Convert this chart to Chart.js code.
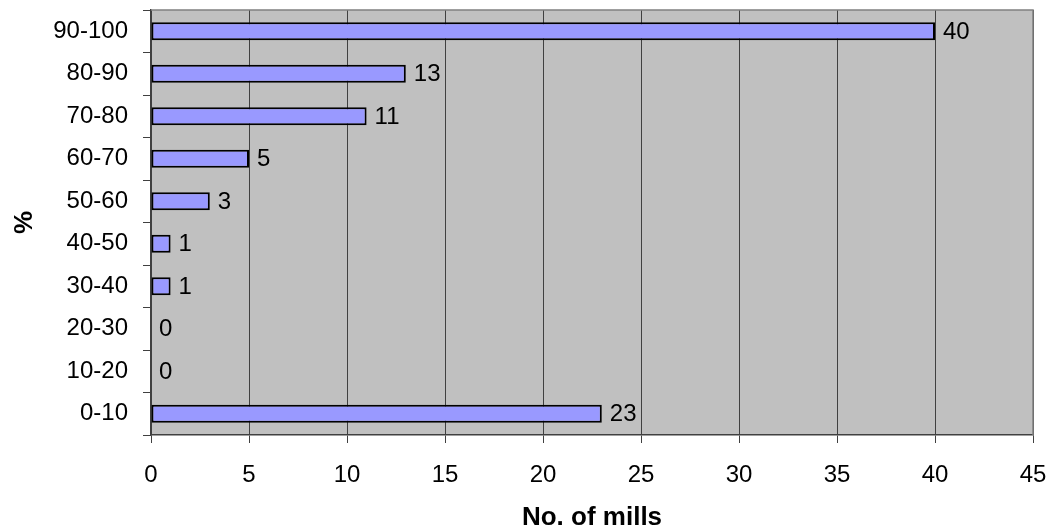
<!DOCTYPE html>
<html>
<head>
<meta charset="utf-8">
<script src="https://cdn.jsdelivr.net/npm/chart.js@4/dist/chart.umd.min.js"></script>
<style>
  html, body { margin: 0; padding: 0; background: #fff; }
  #wrap { width: 1049px; height: 528px; }
</style>
</head>
<body>
<div id="wrap"><canvas id="millChart" width="1049" height="528"></canvas></div>
<script>
// Data (bottom to top)
const bands = ['0-10', '10-20', '20-30', '30-40', '40-50', '50-60', '60-70', '70-80', '80-90', '90-100'];
const mills = [23, 0, 0, 1, 1, 3, 5, 11, 13, 40];
const xTicks = [0, 5, 10, 15, 20, 25, 30, 35, 40, 45];

const FONT = '"Liberation Sans", Arial, sans-serif';

// grey plot area + outline
const plotBox = {
    id: 'plotBox',
    beforeDraw(chart) {
        const a = chart.chartArea, c = chart.ctx;
        c.save();
        c.fillStyle = '#c0c0c0';
        c.fillRect(a.left, a.top, a.right - a.left, a.bottom - a.top);
        c.restore();
    },
    afterDraw(chart) {
        const a = chart.chartArea, c = chart.ctx;
        c.save();
        c.strokeStyle = '#808080';
        c.lineWidth = 1.5;
        c.beginPath();
        c.moveTo(a.left, a.top);
        c.lineTo(a.right, a.top);
        c.lineTo(a.right, a.bottom);
        c.stroke();
        c.restore();
    }
};

// value labels at end of bars
const barLabels = {
    id: 'barLabels',
    afterDatasetsDraw(chart) {
        const c = chart.ctx;
        const meta = chart.getDatasetMeta(0);
        c.save();
        c.font = '24px ' + FONT;
        c.fillStyle = '#000';
        c.textAlign = 'left';
        c.textBaseline = 'middle';
        meta.data.forEach((bar, i) => {
            c.fillText(String(mills[i]), bar.x + 8, bar.y + 1);
        });
        c.restore();
    }
};

new Chart(document.getElementById('millChart'), {
    type: 'bar',
    data: {
        labels: bands,
        datasets: [{
            data: mills,
            backgroundColor: '#9999ff',
            borderColor: '#000',
            borderWidth: 2,
            borderSkipped: false,
            barPercentage: 0.42,
            categoryPercentage: 1.0
        }]
    },
    options: {
        indexAxis: 'y',
        responsive: false,
        animation: false,
        layout: { padding: { top: 10, right: 16, bottom: 0, left: 0 } },
        plugins: { legend: { display: false }, tooltip: { enabled: false } },
        scales: {
            x: {
                min: 0,
                max: 45,
                afterBuildTicks: (s) => { s.ticks = xTicks.map(v => ({ value: v })); },
                afterFit: (s) => { s.height = 93; s.paddingLeft = 0; s.paddingRight = 0; },
                grid: { color: '#404040', lineWidth: 1, tickLength: 8, tickColor: '#404040' },
                border: { color: '#404040', width: 1.5 },
                ticks: { color: '#000', font: { family: FONT, size: 24 }, padding: 18 },
                title: {
                    display: true,
                    text: 'No. of mills',
                    color: '#000',
                    font: { family: FONT, size: 26, weight: 'bold', lineHeight: 0.8 },
                    padding: { top: 0, bottom: 0 }
                }
            },
            y: {
                reverse: true,
                afterFit: (s) => { s.width = 151; s.paddingTop = 0; s.paddingBottom = 0; },
                grid: { drawOnChartArea: false, tickLength: 8, color: '#404040' },
                border: { color: '#404040', width: 1.5 },
                ticks: { color: '#000', font: { family: FONT, size: 24 }, padding: 15 },
                title: {
                    display: true,
                    text: '%',
                    color: '#000',
                    font: { family: FONT, size: 26, weight: 'bold', lineHeight: 0.8 },
                    padding: { top: 14, bottom: 0 }
                }
            }
        }
    },
    plugins: [plotBox, barLabels]
});
</script>
</body>
</html>
